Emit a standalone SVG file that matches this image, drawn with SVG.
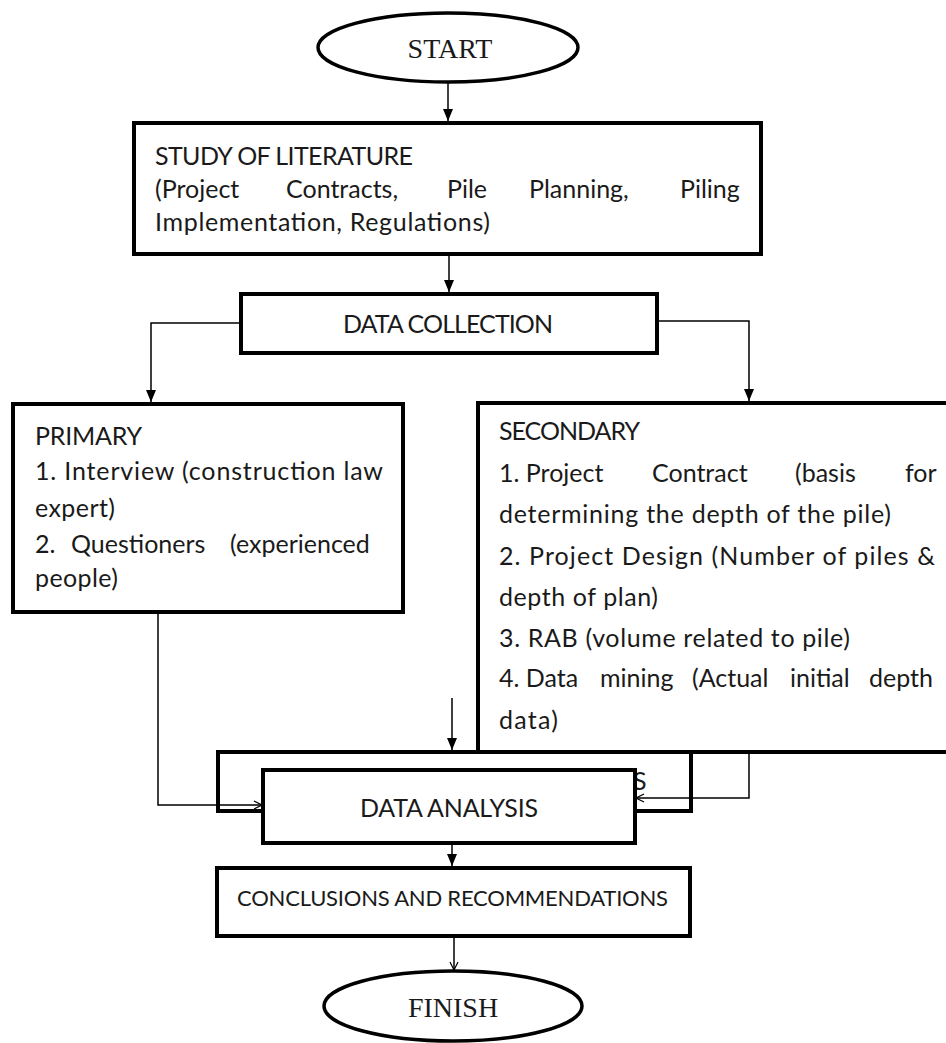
<svg xmlns="http://www.w3.org/2000/svg" width="946" height="1043" viewBox="0 0 946 1043">
<style>
.box{fill:#fff;stroke:#000;stroke-width:4}
.ell{fill:#fff;stroke:#000;stroke-width:3.5}
.t{font-family:Lato,'Open Sans',sans-serif;font-size:25px;fill:#1a1a1a}
.tc{font-family:Lato,'Open Sans',sans-serif;font-size:22px;fill:#1a1a1a}
.s{font-family:'Liberation Serif',serif;font-size:28px;fill:#1a1a1a}
.c{fill:none;stroke:#000;stroke-width:1.5}
</style>
<defs>
<marker id="af" viewBox="0 0 12 10" refX="12" refY="5" markerWidth="12" markerHeight="10" markerUnits="userSpaceOnUse" orient="auto"><path d="M0,0 L12,5 L0,10 z" fill="#000"/></marker>
<marker id="ao" viewBox="0 0 10 10" refX="9" refY="5" markerWidth="10" markerHeight="10" markerUnits="userSpaceOnUse" orient="auto"><path d="M1,1 L9,5 L1,9" fill="none" stroke="#000" stroke-width="1.2"/></marker>
</defs>

<g id="start">
<ellipse class="ell" cx="448" cy="47.5" rx="130" ry="34.5"/>
<text class="s" x="450" y="58" text-anchor="middle">START</text>
</g>

<g id="study">
<rect class="box" x="134" y="123" width="627" height="131"/>
<text class="t" x="155" y="165" textLength="258">STUDY OF LITERATURE</text>
<text class="t" y="198"><tspan x="155">(Project</tspan><tspan x="286">Contracts,</tspan><tspan x="447">Pile</tspan><tspan x="529">Planning,</tspan><tspan x="680">Piling</tspan></text>
<text class="t" x="155" y="231" textLength="335">Implementation, Regulations)</text>
</g>

<g id="datacollection">
<rect class="box" x="241" y="294" width="416" height="59"/>
<text class="t" x="343" y="333" textLength="210">DATA COLLECTION</text>
</g>

<g id="primary">
<rect class="box" x="13" y="404" width="390" height="208"/>
<text class="t" x="35" y="445" textLength="107">PRIMARY</text>
<text class="t" x="35" y="480" textLength="348">1. Interview (construction law</text>
<text class="t" x="35" y="517" textLength="80">expert)</text>
<text class="t" y="553"><tspan x="35">2.</tspan><tspan x="71">Questioners</tspan><tspan x="230">(experienced</tspan></text>
<text class="t" x="35" y="587" textLength="83">people)</text>
</g>

<g id="analysis-back">
<rect class="box" x="218" y="752" width="473" height="59"/>
<text class="t" x="633" y="790">S</text>
</g>

<g id="secondary">
<rect class="box" x="478" y="403" width="480" height="349"/>
<text class="t" x="499" y="440" textLength="141">SECONDARY</text>
<text class="t" y="482"><tspan x="499">1. Project</tspan><tspan x="652">Contract</tspan><tspan x="795">(basis</tspan><tspan x="905">for</tspan></text>
<text class="t" x="499" y="523" textLength="392">determining the depth of the pile)</text>
<text class="t" x="499" y="565" textLength="436">2.  Project Design (Number of piles &amp;</text>
<text class="t" x="499" y="606" textLength="159">depth of plan)</text>
<text class="t" x="499" y="647" textLength="351">3. RAB (volume  related to pile)</text>
<text class="t" y="687"><tspan x="499">4. Data</tspan><tspan x="600">mining</tspan><tspan x="692">(Actual</tspan><tspan x="790">initial</tspan><tspan x="869">depth</tspan></text>
<text class="t" x="499" y="729" textLength="59">data)</text>
</g>

<g id="analysis">
<rect class="box" x="263" y="770" width="372" height="73"/>
<text class="t" x="360" y="817" textLength="178">DATA ANALYSIS</text>
</g>

<g id="conclusions">
<rect class="box" x="217" y="868" width="473" height="68"/>
<text class="tc" x="237" y="906" textLength="431">CONCLUSIONS AND RECOMMENDATIONS</text>
</g>

<g id="finish">
<ellipse class="ell" cx="453" cy="1006" rx="129" ry="35"/>
<text class="s" x="453" y="1017" text-anchor="middle">FINISH</text>
</g>

<g id="connectors">
<path class="c" d="M448,82 L448,121" marker-end="url(#af)"/>
<path class="c" d="M449,254 L449,292" marker-end="url(#af)"/>
<path class="c" d="M241,323 L151,323 L151,402" marker-end="url(#af)"/>
<path class="c" d="M657,321 L749,321 L749,401" marker-end="url(#af)"/>
<path class="c" d="M158,612 L158,805 L262,805" marker-end="url(#ao)"/>
<path class="c" d="M749,754 L749,798 L636,798" marker-end="url(#ao)"/>
<path class="c" d="M452,698 L452,750" marker-end="url(#af)"/>
<path class="c" d="M452,843 L452,866" marker-end="url(#af)"/>
<path class="c" d="M454,936 L454,970" marker-end="url(#ao)"/>
</g>
</svg>
